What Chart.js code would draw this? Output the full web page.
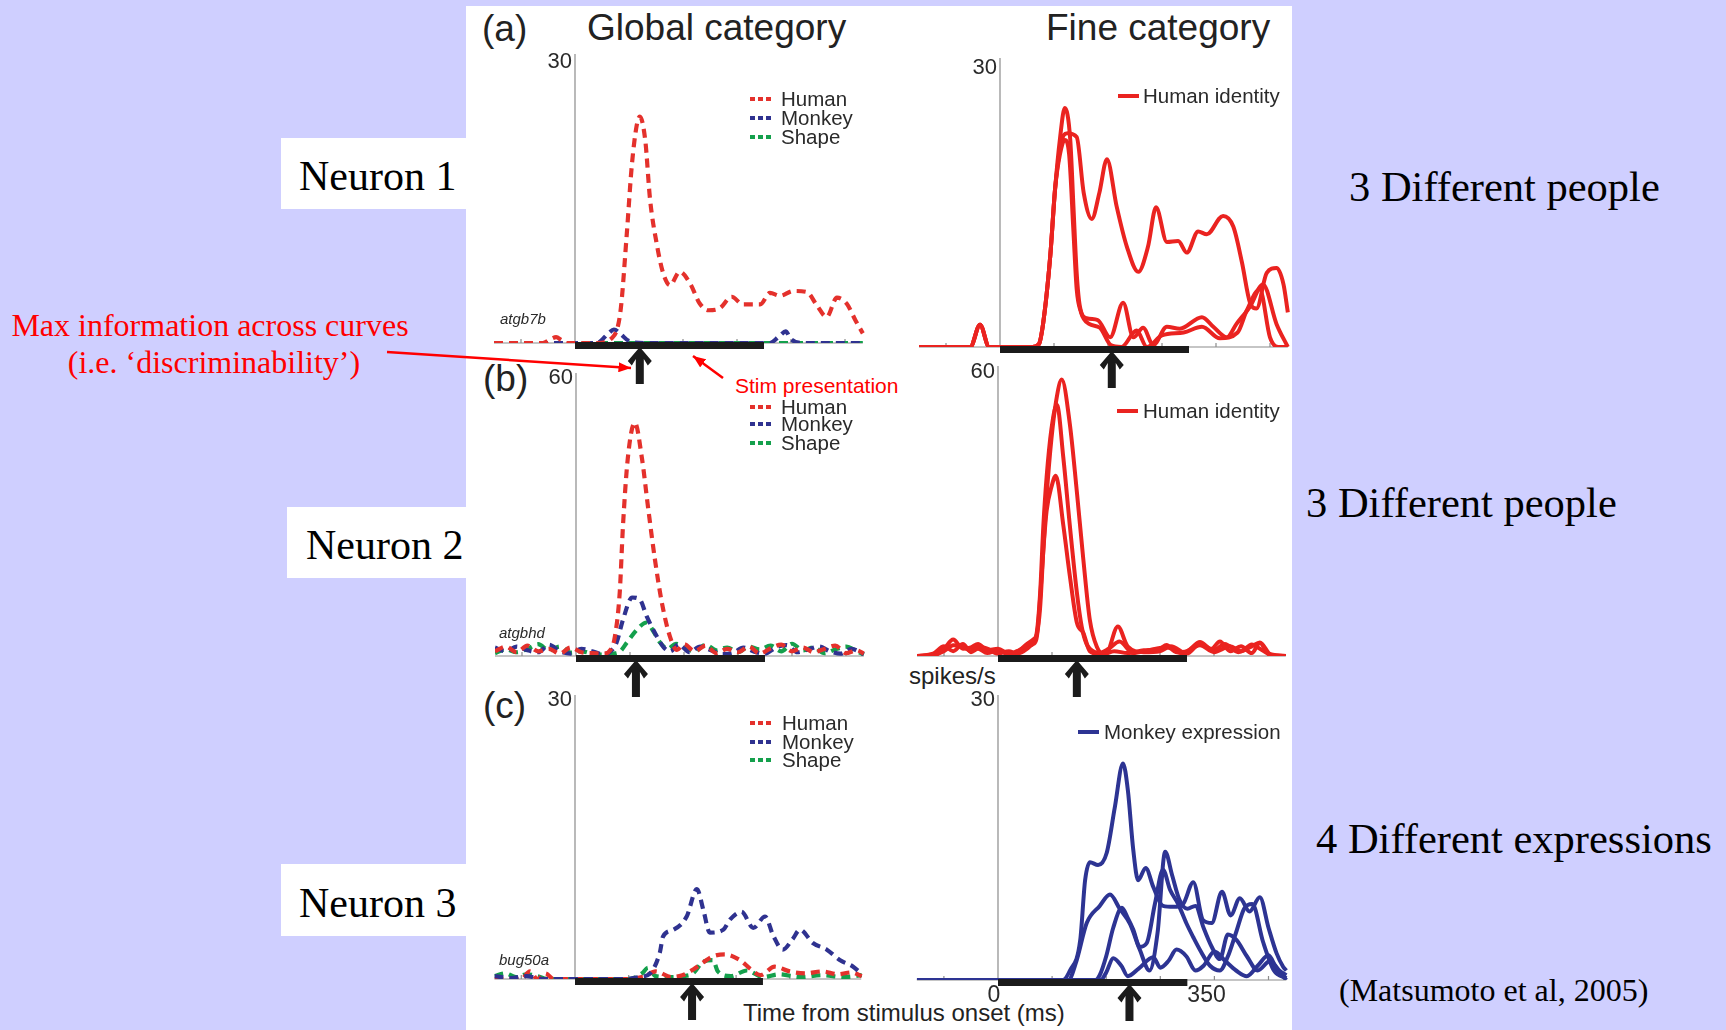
<!DOCTYPE html>
<html>
<head>
<meta charset="utf-8">
<script src="https://cdn.jsdelivr.net/npm/chart.js@4.4.1/dist/chart.umd.min.js"></script>
<style>
  html, body { margin: 0; padding: 0; }
  body { width: 1726px; height: 1030px; background: #cfcfff; position: relative; overflow: hidden;
         font-family: "Liberation Sans", Arial, sans-serif; }
  .t { position: absolute; white-space: nowrap; line-height: 1; }
  .serif { font-family: "Liberation Serif", "Times New Roman", serif; }
  .box { position: absolute; background: #fff; }
  canvas { position: absolute; }
</style>
</head>
<body>
<div class="box" style="left:466px;top:6px;width:826px;height:1024px"></div>
<div class="box" style="left:281px;top:138px;width:186px;height:71px"></div>
<div class="box" style="left:287px;top:507px;width:180px;height:71px"></div>
<div class="box" style="left:281px;top:864px;width:186px;height:72px"></div>

<div class="t serif" style="left:299px;top:155px;font-size:42px">Neuron 1</div>
<div class="t serif" style="left:306px;top:524px;font-size:42px">Neuron 2</div>
<div class="t serif" style="left:299px;top:882px;font-size:42px">Neuron 3</div>

<div class="t" style="left:482px;top:10px;font-size:37px;color:#222">(a)</div>
<div class="t" style="left:587px;top:9px;font-size:37px;color:#222">Global category</div>
<div class="t" style="left:1046px;top:9px;font-size:37px;color:#222">Fine category</div>
<div class="t" style="left:483px;top:360px;font-size:37px;color:#222">(b)</div>
<div class="t" style="left:483px;top:687px;font-size:37px;color:#222">(c)</div>

<div class="t" style="left:909px;top:664px;font-size:24px;color:#222">spikes/s</div>
<div class="t" style="left:743px;top:1001px;font-size:24px;color:#222">Time from stimulus onset (ms)</div>

<div class="t serif" style="left:1349px;top:166px;font-size:42.5px">3 Different people</div>
<div class="t serif" style="left:1306px;top:482px;font-size:42.5px">3 Different people</div>
<div class="t serif" style="left:1316px;top:818px;font-size:42.5px">4 Different expressions</div>
<div class="t serif" style="left:1339px;top:974px;font-size:32px">(Matsumoto et al, 2005)</div>

<div class="t serif" style="left:0;width:420px;text-align:center;top:309px;font-size:32px;color:#f00">Max information across curves</div>
<div class="t serif" style="left:0;width:428px;text-align:center;top:346px;font-size:32px;color:#f00">(i.e. ‘discriminability’)</div>
<div class="t" style="left:735px;top:375px;font-size:21px;color:#f00">Stim presentation</div>

<script>
// ---------- data: time from stimulus onset (ms) and rate (spikes/s) ----------
// (a) neuron 1, global category
const aGlobHumanT = [-150,-60,-45,-35,-25,-15,40,68,84,96,105,114,120,130,139,151,163,176,194,213,231,247,268,290,311,343,361,380,404,429,448,466,485,503,519,533];
const aGlobHumanV = [0,0,0.4,0.6,0.3,0,0,0.5,3.2,11.4,18.3,22.5,23.5,21.1,14.9,10.4,7.3,6.0,7.4,6.2,4.1,3.4,3.6,4.8,4.0,4.0,5.2,4.9,5.4,5.3,3.9,2.7,4.7,4.1,2.4,1.0];
const aGlobMonkeyT = [-150,40,62,72,85,100,130,360,380,390,400,420,533];
const aGlobMonkeyV = [0,0,1.0,1.4,0.9,0.2,0,0,0.8,1.2,0.4,0,0];
const aGlobShapeT = [-150,533];
const aGlobShapeV = [0,0];

// (a) neuron 1, fine category (human identity)
const aFine1T = [-150,-55,-37,-20,60,72,80,93,102,111,120,130,136,142,148,160,181,204,228,247,265,284,309,333,374,395,420,438,463,487,512,533];
const aFine1V = [0,0,2.3,0,0,0.3,2.5,9.4,16.4,21.6,24.8,21.6,14.6,7.7,4.2,3.0,2.8,1.0,4.6,1.0,2.0,0.2,2.1,1.9,3.1,2.1,1.0,2.4,4.2,6.5,2.4,0];
const aFine2T = [-150,-55,-37,-20,60,72,80,93,102,111,118,125,142,155,170,184,198,216,235,256,274,289,309,330,346,367,383,413,432,448,463,475,494,512,525,533];
const aFine2V = [0,0,2.3,0,0,0.3,2.5,9.4,16.4,20.5,22.0,22.2,21.8,16,13.3,16,19.5,14.6,10.4,7.8,10.4,14.5,10.9,11.0,9.8,12.0,11.7,13.6,12.5,8.8,4.6,4.0,7.7,8.2,6.5,3.6];
const aFine3T = [-150,-55,-37,-20,60,72,80,93,102,111,120,128,136,142,150,165,185,205,225,253,272,300,340,374,407,440,457,481,500,515,533];
const aFine3V = [0,0,2.3,0,0,0.3,2.5,9.4,16.4,20.0,21.5,20,12,6,3.6,2.4,2.0,0.2,0,1.7,0,1.2,1.5,2.1,0.9,1.5,3.8,6.0,1.0,0,0];

// (b) neuron 2, global category
const bGlobHumanT = [-150,-130,-110,-90,-70,-50,-30,-10,10,30,50,65,72,81,87,96,109,122,134,146,159,174,187,200,220,240,260,280,300,320,340,360,380,400,420,440,460,480,500,520,533];
const bGlobHumanV = [1.0,2.0,0.8,2.2,1.0,1.5,0.5,1.8,0.8,0.6,0.5,1.5,4.1,13.5,27.6,42,49.5,42,31,20.6,11.3,4.1,1.3,2.5,1.0,2.2,0.6,1.5,0.8,2.0,0.5,1.6,2.4,1.0,1.8,0.8,1.5,2.2,0.6,1.2,0.5];
const bGlobMonkeyT = [-150,-130,-110,-90,-70,-50,-30,-10,10,30,50,62,75,87,104,118,131,150,162,175,190,210,230,250,270,290,310,330,350,370,390,410,430,450,470,490,510,533];
const bGlobMonkeyV = [1.8,1.0,2.0,1.2,0.8,2.4,1.0,0.5,1.5,1.0,0.4,0.8,2.8,7.7,12.4,12.0,8.4,4.1,1.9,1.0,2.5,0.8,2.0,1.2,0.4,0.6,1.8,0.9,0.5,1.8,2.3,0.8,1.4,2.0,1.0,0.5,1.5,0.4];
const bGlobShapeT = [-150,-130,-110,-90,-70,-50,-30,-10,10,30,50,70,82,94,113,131,143,156,170,185,200,220,240,260,280,300,320,340,360,380,400,420,440,460,480,500,520,533];
const bGlobShapeV = [0.6,1.4,0.8,1.5,2.5,1.2,2.0,0.7,1.0,0.5,0.3,0.5,1.0,2.8,5.6,7.1,5.3,2.8,1.5,2.6,1.8,1.0,2.4,1.2,1.8,0.8,2.0,1.4,2.2,1.0,2.6,1.2,1.8,0.6,1.4,2.0,1.0,0.3];

// (b) neuron 2, fine category (human identity)
const bFine1T = [-150,-120,-100,-83,-65,-50,-37,-20,0,20,35,54,66,72,78,84,90,99,108,118,133,146,158,170,183,196,215,240,270,300,312,330,350,374,395,411,430,450,470,485,500,515,533];
const bFine1V = [0,0,1.5,3.4,1.5,1.8,2.5,1.2,1.5,0.5,0.8,2.5,3.5,4.5,10,22,33,45,53,57.2,48,34,20,7.5,1.9,0.4,1.0,0.6,1.2,1.5,2.3,0.8,1.0,2.9,1.5,3.0,1.0,2.0,0.6,2.7,0.5,0,0];
const bFine2T = [-150,-120,-100,-83,-65,-50,-37,-20,0,20,35,54,66,72,78,84,90,99,109,121,133,146,155,164,180,200,222,240,270,300,320,350,374,400,420,445,470,485,505,533];
const bFine2V = [0,0.3,1.0,2.2,2.0,1.0,2.0,1.5,0.5,1.0,0.5,1.5,3.0,5,13,27,37,47,52,41,27,13.2,6.1,2.5,0.8,0.5,6.1,2.0,0.8,1.0,2.0,0.5,2.5,1.2,2.5,0.8,2.0,2.8,0.3,0];
const bFine3T = [-150,-120,-100,-83,-65,-50,-37,-20,0,20,35,54,66,72,78,84,90,99,107,121,133,146,158,170,185,205,225,250,280,312,340,374,400,430,450,470,485,500,533];
const bFine3V = [0,0.5,2.0,1.0,2.5,0.8,1.5,0.6,1.2,0.3,1.0,2.0,2.5,4,12,22,30,35,37.3,27,16.6,6.9,4.8,1.0,0.5,1.5,3.0,0.6,1.2,1.8,0.6,2.2,0.8,2.0,1.0,2.4,1.5,0.5,0];

// (c) neuron 3, global category
const cGlobHumanT = [-150,-100,-84,-70,-55,-40,0,100,130,150,180,200,220,240,257,279,307,326,345,372,400,430,460,490,515,534];
const cGlobHumanV = [0,0,0.8,0,0.6,0,0,0,0.3,0.8,0.2,0.4,1.0,1.8,2.4,2.6,2.0,1.1,0.4,1.3,0.8,0.6,0.8,0.5,0.7,0.3];
const cGlobMonkeyT = [-150,-120,-90,-60,-30,0,30,60,90,120,140,158,164,183,208,227,239,251,276,289,310,332,354,369,387,405,419,443,469,493,518,534];
const cGlobMonkeyV = [0.3,0.1,0.3,0,0,0,0,0,0,0.2,0.6,2.8,4.5,5.2,6.6,9.5,7.3,4.9,5.2,6.3,7.1,5.4,6.6,4.6,3.1,4.2,5.2,3.8,3.1,2.0,1.3,0.5];
const cGlobShapeT = [-150,-130,-110,-90,-70,-50,0,100,125,136,150,180,200,220,238,257,266,290,320,350,380,420,460,500,534];
const cGlobShapeV = [0.3,0.6,0.2,0.5,0.3,0,0,0,0.6,1.2,0.3,0.2,0.3,0.6,1.8,2.0,0.8,0.3,0.9,0.2,0.5,0.2,0.4,0.2,0.4];

// (c) neuron 3, fine category (monkey expression)
const cFine1T = [-150,120,133,152,161,170,185,201,216,231,240,250,259,273,287,305,325,342,361,379,395,414,430,447,465,484,500,515,527,533];
const cFine1V = [0,0,1.0,4.2,10.5,12.4,12.1,13.4,18.2,22.8,20,13.7,10.5,11.8,9.8,7.8,7.7,8.0,10.3,6.3,6.0,9.3,6.8,8.6,7.2,8.7,5.5,2.8,1.4,1.0];
const cFine2T = [-150,130,145,164,188,207,225,244,262,280,295,309,322,335,350,365,380,395,410,425,441,460,480,503,520,533];
const cFine2V = [0,0,2.0,6.0,7.8,9.0,7.5,5.9,3.2,1.0,5,13.5,11,8.5,7.5,7.8,5.5,3.5,2.2,4.8,4.2,2.5,1.0,2.0,1.0,0.5];
const cFine3T = [-150,180,188,200,213,229,240,250,262,275,290,305,318,333,348,361,375,392,410,425,440,455,470,490,510,533];
const cFine3V = [0,0,0.5,2.5,5.5,7.6,6.5,5.3,3.5,3.9,8,11.6,9.5,8.0,6.0,4.5,3.0,1.5,1.0,2.5,5.0,7.5,8.0,4.0,1.0,0.2];
const cFine4T = [-150,190,200,213,228,240,260,287,300,315,330,348,365,380,400,420,440,460,480,500,515,533];
const cFine4V = [0,0,0.8,2.3,1.5,0.4,1.2,2.4,1.3,2.0,3.2,2.5,1.0,1.5,3.0,2.0,1.0,0.4,1.5,2.6,1.2,0];

const globalLabels = ['Human', 'Monkey', 'Shape'];
const stimMs = [0, 350];
const tickMs = [-100, 100, 200, 300, 400, 500];

// ---------- styles ----------
const RED = '#e4312c', BLUE = '#2f3290', GREEN = '#14a04c';
const FINE_RED = '#ea2320', FINE_BLUE = '#2d3493';

// panel layout (page pixels) – where each little plot sits on the slide
const panels = [
  { x0: 575, msPx: 0.54, baseY: 343, topY: 54, yMax: 30, yLabelY: 62, arrowMs: 120, dashed: true,
    tag: { text: 'atgb7b', x: 500, y: 324 },
    legend: { x: 750, textX: 781, rows: [99, 118, 137], labels: globalLabels, colors: [RED, BLUE, GREEN] },
    series: [[aGlobHumanT, aGlobHumanV, RED], [aGlobMonkeyT, aGlobMonkeyV, BLUE], [aGlobShapeT, aGlobShapeV, GREEN]] },
  { x0: 1000, msPx: 0.54, baseY: 347, topY: 58, yMax: 30, yLabelY: 68, arrowMs: 207, dashed: false,
    legend: { x: 1118, textX: 1143, rows: [96], labels: ['Human identity'], colors: [FINE_RED] },
    series: [[aFine1T, aFine1V, FINE_RED], [aFine2T, aFine2V, FINE_RED], [aFine3T, aFine3V, FINE_RED]] },
  { x0: 576, msPx: 0.54, baseY: 656, topY: 373, yMax: 60, yLabelY: 378, arrowMs: 111, dashed: true,
    tag: { text: 'atgbhd', x: 499, y: 638 },
    legend: { x: 750, textX: 781, rows: [407, 424, 443], labels: globalLabels, colors: [RED, BLUE, GREEN] },
    series: [[bGlobHumanT, bGlobHumanV, RED], [bGlobMonkeyT, bGlobMonkeyV, BLUE], [bGlobShapeT, bGlobShapeV, GREEN]] },
  { x0: 998, msPx: 0.54, baseY: 656, topY: 366, yMax: 60, yLabelY: 372, arrowMs: 146, dashed: false,
    legend: { x: 1117, textX: 1143, rows: [411], labels: ['Human identity'], colors: [FINE_RED] },
    series: [[bFine1T, bFine1V, FINE_RED], [bFine2T, bFine2V, FINE_RED], [bFine3T, bFine3V, FINE_RED]] },
  { x0: 575, msPx: 0.537, baseY: 979, topY: 695, yMax: 30, yLabelY: 700, arrowMs: 218, dashed: true,
    tag: { text: 'bug50a', x: 499, y: 965 },
    legend: { x: 750, textX: 782, rows: [723, 742, 760], labels: globalLabels, colors: [RED, BLUE, GREEN] },
    series: [[cGlobMonkeyT, cGlobMonkeyV, BLUE], [cGlobHumanT, cGlobHumanV, RED], [cGlobShapeT, cGlobShapeV, GREEN]] },
  { x0: 998, msPx: 0.541, baseY: 980, topY: 695, yMax: 30, yLabelY: 700, arrowMs: 243, dashed: false, xLabels: true,
    legend: { x: 1078, textX: 1104, rows: [732], labels: ['Monkey expression'], colors: [FINE_BLUE] },
    series: [[cFine1T, cFine1V, FINE_BLUE], [cFine2T, cFine2V, FINE_BLUE], [cFine3T, cFine3V, FINE_BLUE], [cFine4T, cFine4V, FINE_BLUE]] }
];

function drawArrow(ctx, x, tip) {
  const L = 37;
  ctx.beginPath();
  ctx.moveTo(x, tip);
  ctx.lineTo(x + 12, tip + 14);
  ctx.lineTo(x + 8, tip + 18.5);
  ctx.lineTo(x + 4, tip + 12);
  ctx.lineTo(x + 4, tip + L);
  ctx.lineTo(x - 4, tip + L);
  ctx.lineTo(x - 4, tip + 12);
  ctx.lineTo(x - 8, tip + 18.5);
  ctx.lineTo(x - 12, tip + 14);
  ctx.closePath();
  ctx.fill();
}

// axes, stimulus bar, arrow and legend for one panel
function makeDecor(p) {
  return {
    id: 'decor',
    beforeDatasetsDraw(chart) {
      const { ctx, scales: { x, y } } = chart;
      const base = y.getPixelForValue(0);
      ctx.save();
      ctx.strokeStyle = '#8c8c8c';
      ctx.lineWidth = 1.2;
      ctx.beginPath();
      ctx.moveTo(x.getPixelForValue(-150), base);
      ctx.lineTo(x.getPixelForValue(533), base);
      tickMs.forEach(t => {
        const px = x.getPixelForValue(t);
        ctx.moveTo(px, base);
        ctx.lineTo(px, base - 4);
      });
      const ax = x.getPixelForValue(0);
      ctx.moveTo(ax, base);
      ctx.lineTo(ax, y.getPixelForValue(p.yMax));
      ctx.stroke();
      ctx.restore();
    },
    afterDatasetsDraw(chart) {
      const { ctx, scales: { x, y } } = chart;
      const base = y.getPixelForValue(0);
      const ax = x.getPixelForValue(0);
      ctx.save();
      ctx.fillStyle = '#1b1b1b';
      const b0 = x.getPixelForValue(stimMs[0]), b1 = x.getPixelForValue(stimMs[1]);
      ctx.fillRect(b0, base - 1, b1 - b0, 7);
      drawArrow(ctx, x.getPixelForValue(p.arrowMs), base + 4);

      ctx.fillStyle = '#2a2a2a';
      ctx.font = '22px "Liberation Sans", Arial, sans-serif';
      ctx.textAlign = 'right';
      ctx.textBaseline = 'middle';
      ctx.fillText(String(p.yMax), ax - 3, p.yLabelY - p.ct);

      if (p.xLabels) {
        ctx.font = '23px "Liberation Sans", Arial, sans-serif';
        ctx.textAlign = 'center';
        ctx.fillText(String(stimMs[0]), ax - 4, base + 16);
        ctx.textAlign = 'left';
        ctx.fillText(String(stimMs[1]), b1, base + 16);
      }
      if (p.tag) {
        ctx.font = 'italic 15px "Liberation Sans", Arial, sans-serif';
        ctx.textAlign = 'left';
        ctx.textBaseline = 'alphabetic';
        ctx.fillText(p.tag.text, p.tag.x - p.cl, p.tag.y - p.ct);
      }
      const lg = p.legend;
      ctx.font = '20.5px "Liberation Sans", Arial, sans-serif';
      ctx.textAlign = 'left';
      ctx.textBaseline = 'middle';
      lg.labels.forEach((lab, i) => {
        const ry = lg.rows[i] - p.ct;
        ctx.strokeStyle = lg.colors[i];
        ctx.lineWidth = 4;
        ctx.setLineDash(p.dashed ? [5, 3] : []);
        ctx.beginPath();
        ctx.moveTo(lg.x - p.cl, ry);
        ctx.lineTo(lg.x + 21 - p.cl, ry);
        ctx.stroke();
        ctx.setLineDash([]);
        ctx.fillStyle = '#2a2a2a';
        ctx.fillText(lab, lg.textX - p.cl, ry + 1);
      });
      ctx.restore();
    }
  };
}

panels.forEach(p => {
  const left = p.x0 - 150 * p.msPx;
  const right = p.x0 + 540 * p.msPx;
  const cl = Math.floor(left) - 25;
  const ct = p.topY - 50;
  const cw = Math.ceil(right) + 25 - cl;
  const ch = p.baseY + 50 - ct;
  p.cl = cl; p.ct = ct;
  const cv = document.createElement('canvas');
  cv.width = cw; cv.height = ch;
  cv.style.left = cl + 'px';
  cv.style.top = ct + 'px';
  document.body.appendChild(cv);

  new Chart(cv, {
    type: 'line',
    data: {
      datasets: p.series.map(([t, v, color]) => ({
        data: t.map((tt, i) => ({ x: tt, y: v[i] })),
        borderColor: color,
        borderWidth: p.dashed ? 4.2 : 4,
        borderDash: p.dashed ? [9, 6] : [],
        borderCapStyle: 'butt',
        borderJoinStyle: 'round',
        pointRadius: 0,
        fill: false,
        cubicInterpolationMode: 'monotone'
      }))
    },
    options: {
      responsive: false,
      animation: false,
      devicePixelRatio: 1,
      events: [],
      layout: { padding: { left: left - cl, right: cl + cw - right, top: p.topY - ct, bottom: ct + ch - p.baseY } },
      scales: {
        x: { type: 'linear', min: -150, max: 540, display: false },
        y: { min: 0, max: p.yMax, display: false }
      },
      plugins: { legend: { display: false }, tooltip: { enabled: false } }
    },
    plugins: [makeDecor(p)]
  });
});
</script>

<svg width="1726" height="1030" style="position:absolute;left:0;top:0;pointer-events:none">
  <defs>
    <marker id="ah" markerWidth="5" markerHeight="4" refX="5" refY="2" orient="auto" markerUnits="strokeWidth">
      <path d="M0,0 L5,2 L0,4 z" fill="#f00"/>
    </marker>
  </defs>
  <line x1="387" y1="352" x2="631" y2="368" stroke="#f00" stroke-width="2.5" marker-end="url(#ah)"/>
  <line x1="723" y1="378" x2="693" y2="356" stroke="#f00" stroke-width="2.5" marker-end="url(#ah)"/>
</svg>
</body>
</html>
